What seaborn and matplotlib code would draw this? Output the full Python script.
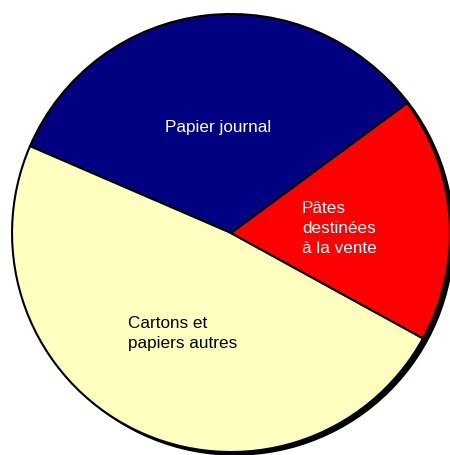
import matplotlib
matplotlib.use("Agg")
import matplotlib.pyplot as plt
import seaborn as sns
from matplotlib.patches import Circle

# données (parts en %)
labels = ["Papier journal", "Cartons et\npapiers autres", "Pâtes\ndestinées\nà la vente"]
parts = [33.4, 48.5, 18.1]
couleurs = ["#000080", "#FFFFC0", "#FF0000"]
couleurs_texte = ["white", "black", "white"]

sns.set_style("white")
plt.rcParams["font.family"] = ["Liberation Sans", "DejaVu Sans"]

fig = plt.figure(figsize=(4.5, 4.55), dpi=100)
ax = fig.add_axes([0, 0, 1, 1])

# ombre portée
ax.add_patch(Circle((0.018, -0.014), 1.0, color="black", zorder=0))

wedges, _ = ax.pie(parts, colors=couleurs, startangle=36.4, counterclock=True,
                   wedgeprops=dict(edgecolor="black", linewidth=1.5))

# positions des étiquettes
pos = [(-0.06, 0.48, "center"), (-0.47, -0.46, "left"), (0.324, 0.02, "left")]
for lab, (x, y, ha), c in zip(labels, pos, couleurs_texte):
    ax.text(x, y, lab, ha=ha, va="center", color=c, fontsize=12.3, linespacing=1.42)

ax.set_xlim(-1.055, 1.0)
ax.set_ylim(-1.0137, 1.064)
ax.set_aspect("auto")
ax.axis("off")

fig.savefig("out.png", dpi=100)
